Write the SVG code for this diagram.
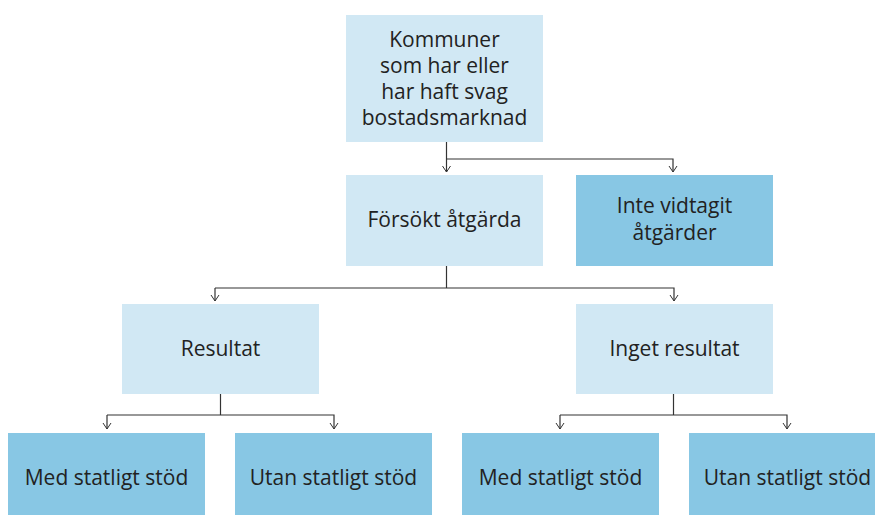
<svg xmlns="http://www.w3.org/2000/svg" width="875" height="515" viewBox="0 0 875 515">
<defs>
<marker id="arr" viewBox="0 0 10 10" refX="9" refY="5" markerWidth="10" markerHeight="10" markerUnits="userSpaceOnUse" orient="auto">
<path d="M3,1 L9,5 L3,9" fill="none" stroke="#333" stroke-width="1"/>
</marker>
<style>
.l{fill:#D1E8F4}
.d{fill:#88C7E4}
text{font-family:"Open Sans","Noto Sans",sans-serif;font-size:21px;fill:#222;text-anchor:middle}
.c{fill:none;stroke:#333;stroke-width:1.2}
</style>
</defs>
<rect width="875" height="515" fill="#fff"/>
<g id="connectors">
<path class="c" d="M446.5,142 V159"/>
<path class="c" d="M446.5,159 H673 V172" marker-end="url(#arr)"/>
<path class="c" d="M446.5,159 V172" marker-end="url(#arr)"/>
<path class="c" d="M446.5,266 V288"/>
<path class="c" d="M215,288 H674 V301" marker-end="url(#arr)"/>
<path class="c" d="M215,288 V301" marker-end="url(#arr)"/>
<path class="c" d="M220.5,394 V415"/>
<path class="c" d="M107,415 H334 V429" marker-end="url(#arr)"/>
<path class="c" d="M107,415 V429" marker-end="url(#arr)"/>
<path class="c" d="M673.5,394 V415"/>
<path class="c" d="M560,415 H787 V429" marker-end="url(#arr)"/>
<path class="c" d="M560,415 V429" marker-end="url(#arr)"/>
</g>
<g id="n_kommuner">
<rect class="l" x="346" y="15" width="197" height="127"/>
<text x="444.5" y="47">Kommuner</text>
<text x="444.5" y="73">som har eller</text>
<text x="444.5" y="99">har haft svag</text>
<text x="444.5" y="125">bostadsmarknad</text>
</g>
<g id="n_forsokt">
<rect class="l" x="346" y="175" width="197" height="91"/>
<text x="444.5" y="227">Försökt åtgärda</text>
</g>
<g id="n_inte">
<rect class="d" x="576" y="175" width="197" height="91"/>
<text x="674.5" y="213">Inte vidtagit</text>
<text x="674.5" y="240">åtgärder</text>
</g>
<g id="n_resultat">
<rect class="l" x="122" y="304" width="197" height="90"/>
<text x="220.5" y="356">Resultat</text>
</g>
<g id="n_inget">
<rect class="l" x="576" y="304" width="197" height="90"/>
<text x="674.5" y="356">Inget resultat</text>
</g>
<g id="n_med1">
<rect class="d" x="8" y="433" width="197" height="82"/>
<text x="106.5" y="485">Med statligt stöd</text>
</g>
<g id="n_utan1">
<rect class="d" x="235" y="433" width="197" height="82"/>
<text x="333.5" y="485">Utan statligt stöd</text>
</g>
<g id="n_med2">
<rect class="d" x="462" y="433" width="197" height="82"/>
<text x="560.5" y="485">Med statligt stöd</text>
</g>
<g id="n_utan2">
<rect class="d" x="689" y="433" width="197" height="82"/>
<text x="787.5" y="485">Utan statligt stöd</text>
</g>
</svg>
